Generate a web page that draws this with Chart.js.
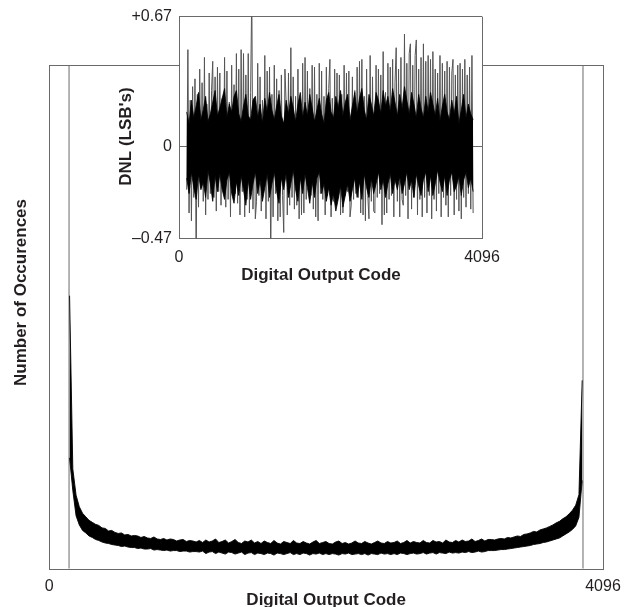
<!DOCTYPE html>
<html><head><meta charset="utf-8">
<script src="https://cdn.jsdelivr.net/npm/chart.js@4.4.1/dist/chart.umd.min.js"></script>
<style>
html,body{margin:0;padding:0;background:#fff;}
#wrap{position:relative;width:626px;height:607px;overflow:hidden;background:#fff;}
#main{position:absolute;left:0;top:0;}
#inset{position:absolute;left:100px;top:0;}
</style></head><body>
<div id="wrap"><canvas id="main" width="626" height="607"></canvas><canvas id="inset" width="420" height="290"></canvas></div>
<script>
// ---------- data ----------
const histFirstCode = 150, histStep = 24;
const histHigh = [
 54.2, 19.8, 14.6, 12.3, 11.0, 10.3, 9.6, 9.2, 8.8, 8.6,
 8.1, 8.0, 7.5, 7.6, 7.2, 7.0, 7.1, 6.7, 6.8, 6.5,
 6.6, 6.5, 6.2, 6.4, 6.1, 6.0, 6.3, 5.9, 5.8, 6.0,
 5.7, 5.9, 5.8, 5.5, 5.7, 5.8, 5.4, 5.6, 5.5, 5.3,
 5.6, 5.2, 5.7, 5.3, 5.5, 5.9, 5.2, 5.4, 5.7, 5.1,
 5.4, 5.8, 5.2, 5.0, 5.5, 5.3, 5.7, 5.1, 5.4, 5.0,
 5.5, 5.2, 5.0, 5.6, 5.1, 4.9, 5.4, 5.2, 5.0, 5.6,
 5.1, 5.0, 5.4, 5.1, 4.9, 5.3, 5.6, 5.0, 5.2, 5.4,
 5.0, 4.9, 5.3, 5.5, 5.0, 5.2, 4.9, 5.1, 5.5, 5.1,
 5.0, 5.4, 5.1, 4.9, 5.2, 5.5, 5.1, 5.0, 5.4, 5.1,
 5.2, 5.5, 5.0, 5.2, 5.6, 5.1, 5.4, 5.2, 5.1, 5.6,
 5.2, 5.1, 5.6, 5.3, 5.4, 5.1, 5.7, 5.3, 5.2, 5.6,
 5.3, 5.7, 5.4, 5.5, 5.9, 5.4, 5.6, 5.9, 5.5, 5.8,
 5.8, 5.7, 5.9, 6.0, 5.9, 6.2, 6.1, 6.3, 6.5, 6.4,
 6.8, 6.9, 7.1, 7.4, 7.3, 7.7, 7.9, 8.1, 8.4, 8.7,
 9.1, 9.4, 9.9, 10.3, 10.9, 11.6, 12.6, 14.7, 37.4
];
const histLow = [
 22.0, 15.5, 10.5, 8.7, 7.6, 7.1, 6.5, 6.2, 5.8, 5.6,
 5.3, 5.1, 5.0, 4.8, 4.7, 4.6, 4.4, 4.5, 4.3, 4.2,
 4.2, 4.0, 4.1, 3.9, 3.9, 4.0, 3.7, 3.8, 3.7, 3.6,
 3.7, 3.5, 3.6, 3.6, 3.4, 3.5, 3.5, 3.3, 3.4, 3.4,
 3.3, 3.5, 3.0, 3.3, 3.4, 3.0, 3.3, 3.1, 2.9, 3.3,
 3.2, 2.9, 3.1, 3.3, 2.8, 3.1, 3.2, 2.8, 3.1, 3.0,
 2.8, 3.1, 3.0, 2.7, 3.1, 3.0, 2.8, 3.0, 3.2, 2.8,
 3.0, 2.8, 3.1, 3.0, 2.7, 3.0, 2.9, 3.1, 2.8, 3.0,
 2.8, 3.0, 2.9, 2.7, 3.0, 2.9, 3.1, 2.8, 2.9, 3.0,
 2.8, 3.0, 2.7, 3.0, 2.9, 2.8, 3.1, 2.9, 3.0, 2.8,
 3.0, 2.8, 3.1, 3.0, 2.8, 3.0, 3.1, 2.9, 3.0, 3.2,
 2.9, 3.1, 3.2, 2.9, 3.2, 3.1, 3.0, 3.3, 3.1, 3.2,
 3.1, 3.3, 3.2, 3.4, 3.2, 3.3, 3.5, 3.3, 3.4, 3.6,
 3.6, 3.6, 3.7, 3.8, 3.8, 3.9, 4.0, 4.1, 4.2, 4.3,
 4.4, 4.5, 4.6, 4.8, 4.9, 5.0, 5.2, 5.3, 5.5, 5.7,
 5.9, 6.1, 6.5, 6.9, 7.3, 7.8, 8.5, 10.2, 17.5
];
const markerCodes = [146, 3948];
const mainXTicks = [0, 4096];
const mainXTitle = 'Digital Output Code';
const mainYTitle = 'Number of Occurences';

// DNL: individual code spikes (grey) and dense core envelope (black)
const dnlFirstCode = 104, dnlStep = 16;
const dnlValues = [
 -0.22, 0.50, -0.34, 0.24, -0.38, 0.31, -0.26, 0.35, -0.60, 0.27,
 -0.31, 0.40, -0.21, 0.33, -0.28, 0.46, -0.35, 0.22, -0.27, 0.38,
 -0.24, 0.29, 0.44, -0.26, 0.36, -0.33, 0.41, -0.23, 0.38, -0.30,
 0.25, -0.22, 0.46, -0.31, 0.39, -0.27, 0.23, -0.36, 0.42, -0.25,
 0.32, -0.24, 0.48, -0.29, 0.40, -0.35, 0.50, -0.23, 0.48, -0.36,
 0.37, -0.27, 0.48, -0.34, 0.28, 0.80, -0.32, 0.25, -0.37, -0.28,
 0.43, -0.25, 0.36, -0.33, 0.24, -0.22, 0.47, -0.37, 0.39, -0.28,
 0.41, -0.60, 0.27, -0.36, 0.42, -0.24, 0.35, -0.38, 0.29, -0.36,
 0.37, -0.25, -0.44, 0.40, 0.23, -0.35, 0.38, -0.30, 0.51, -0.26,
 0.36, -0.32, 0.26, -0.30, 0.40, -0.37, 0.24, -0.35, 0.43, -0.34,
 0.46, -0.27, 0.39, -0.23, 0.30, -0.25, 0.42, -0.32, 0.41, -0.36,
 0.27, -0.38, 0.43, -0.24, 0.39, -0.27, 0.26, -0.35, 0.41, -0.25,
 0.30, 0.45, -0.36, 0.25, -0.28, 0.40, -0.24, 0.38, -0.26, 0.37,
 -0.35, 0.27, -0.34, 0.42, -0.25, 0.38, -0.23, 0.39, -0.36, -0.30,
 0.36, -0.27, 0.29, -0.24, 0.41, -0.26, 0.44, -0.34, 0.45, -0.35,
 0.26, -0.38, 0.40, -0.25, -0.37, 0.47, -0.28, 0.36, -0.33, -0.34,
 0.42, -0.26, 0.40, -0.24, 0.37, -0.40, 0.49, -0.35, 0.28, -0.34,
 0.43, -0.27, 0.41, -0.25, 0.45, -0.36, 0.33, 0.51, -0.28, 0.40,
 -0.36, 0.46, -0.27, -0.30, 0.58, -0.25, 0.43, -0.37, 0.48, 0.53,
 -0.32, 0.42, -0.26, 0.47, 0.55, -0.35, 0.40, -0.27, 0.46, -0.36,
 0.53, -0.26, 0.44, -0.34, 0.47, -0.25, 0.45, -0.37, 0.49, -0.27,
 0.40, -0.33, 0.38, -0.24, 0.47, -0.36, 0.43, -0.26, 0.39, -0.30,
 0.44, -0.36, 0.41, -0.25, 0.38, 0.45, -0.35, 0.37, -0.27, 0.42,
 -0.33, 0.43, -0.37, 0.40, -0.26, 0.45, -0.31, 0.37, -0.24, 0.41,
 -0.32, 0.47, -0.34
];
const coreFirstCode = 104, coreStep = 32;
const coreHigh = [
 0.18, 0.12, 0.24, 0.15, 0.21, 0.28, 0.14, 0.19, 0.26, 0.13,
 0.17, 0.23, 0.29, 0.16, 0.20, 0.25, 0.30, 0.15, 0.22, 0.18,
 0.26, 0.29, 0.17, 0.13, 0.21, 0.27, 0.16, 0.14, 0.24, 0.26,
 0.15, 0.22, 0.12, 0.25, 0.18, 0.28, 0.19, 0.14, 0.21, 0.27,
 0.16, 0.12, 0.24, 0.17, 0.26, 0.20, 0.13, 0.22, 0.28, 0.15,
 0.23, 0.16, 0.27, 0.20, 0.13, 0.19, 0.25, 0.17, 0.12, 0.24,
 0.28, 0.18, 0.15, 0.26, 0.20, 0.29, 0.16, 0.23, 0.27, 0.14,
 0.21, 0.28, 0.17, 0.25, 0.30, 0.19, 0.14, 0.27, 0.22, 0.16,
 0.28, 0.24, 0.17, 0.29, 0.21, 0.26, 0.18, 0.30, 0.23, 0.16,
 0.27, 0.20, 0.31, 0.24, 0.17, 0.28, 0.22, 0.15, 0.27, 0.20,
 0.15, 0.26, 0.18, 0.28, 0.22, 0.16, 0.25, 0.13, 0.21, 0.27,
 0.18, 0.14, 0.24, 0.17, 0.26, 0.12, 0.19, 0.27, 0.15, 0.22,
 0.17, 0.14
];
const coreLow = [
 -0.16, -0.24, -0.13, -0.21, -0.27, -0.14, -0.22, -0.18, -0.26, -0.12,
 -0.19, -0.28, -0.15, -0.23, -0.14, -0.22, -0.27, -0.17, -0.13, -0.24,
 -0.29, -0.18, -0.25, -0.15, -0.22, -0.30, -0.17, -0.27, -0.19, -0.13,
 -0.24, -0.17, -0.28, -0.21, -0.14, -0.26, -0.19, -0.13, -0.23, -0.29,
 -0.16, -0.22, -0.14, -0.26, -0.19, -0.12, -0.22, -0.28, -0.16, -0.24,
 -0.14, -0.21, -0.29, -0.18, -0.26, -0.16, -0.13, -0.24, -0.19, -0.28,
 -0.21, -0.30, -0.24, -0.33, -0.27, -0.20, -0.31, -0.25, -0.19, -0.28,
 -0.22, -0.16, -0.26, -0.18, -0.27, -0.14, -0.21, -0.26, -0.16, -0.24,
 -0.19, -0.13, -0.22, -0.17, -0.26, -0.19, -0.14, -0.24, -0.17, -0.22,
 -0.15, -0.24, -0.19, -0.13, -0.22, -0.17, -0.26, -0.14, -0.20, -0.25,
 -0.17, -0.13, -0.23, -0.15, -0.25, -0.19, -0.12, -0.18, -0.23, -0.15,
 -0.25, -0.17, -0.13, -0.23, -0.20, -0.15, -0.25, -0.17, -0.13, -0.21,
 -0.16, -0.23
];
const dnlYTicks = [-0.47, 0, 0.67];
const dnlYTickLabels = ['\u20130.47', '0', '+0.67'];
const dnlXTicks = [0, 4096];
const dnlXTitle = 'Digital Output Code';
const dnlYTitle = "DNL (LSB's)";

// ---------- styling ----------
const FONT = '"Liberation Sans", Arial, Helvetica, sans-serif';
const TXT = '#231f20';
const LINE = '#6a6a6a';
Chart.defaults.font.family = FONT;

const toPts = (first, step, arr) => arr.map((v, i) => ({x: first + i * step, y: v}));

const mainDecor = {
  id: 'mainDecor',
  afterDraw(chart) {
    const {ctx, chartArea: a} = chart;
    ctx.save();
    ctx.strokeStyle = LINE; ctx.lineWidth = 1;
    const l = Math.round(a.left) + 0.5, t = Math.round(a.top) + 0.5;
    const r = Math.round(a.right) + 0.5, b = Math.round(a.bottom) + 0.5;
    ctx.strokeRect(l, t, r - l, b - t);
    ctx.fillStyle = TXT;
    ctx.font = 'bold 17px ' + FONT;
    ctx.textAlign = 'center'; ctx.textBaseline = 'alphabetic';
    ctx.fillText(mainXTitle, (a.left + a.right) / 2, 605);
    ctx.translate(25.5, 292.5);
    ctx.rotate(-Math.PI / 2);
    ctx.fillText(mainYTitle, 0, 0);
    ctx.restore();
  }
};

new Chart(document.getElementById('main'), {
  type: 'line',
  data: {datasets: [
    {data: toPts(histFirstCode, histStep, histHigh), borderColor: '#000', borderWidth: 0.9, backgroundColor: '#000', fill: '+1', pointRadius: 0, tension: 0, order: 0},
    {data: toPts(histFirstCode, histStep, histLow), borderColor: '#000', borderWidth: 0.9, fill: false, pointRadius: 0, tension: 0, order: 0},
    ...markerCodes.map(c => ({data: [{x: c, y: 0}, {x: c, y: 100}], borderColor: LINE, borderWidth: 1, fill: false, pointRadius: 0, order: 2}))
  ]},
  options: {
    responsive: false, animation: false, events: [],
    layout: {padding: {left: 49.3, top: 65, right: 23, bottom: 0}},
    plugins: {legend: {display: false}, tooltip: {enabled: false}},
    scales: {
      x: {type: 'linear', min: 0, max: 4096,
          afterBuildTicks: s => { s.ticks = mainXTicks.map(v => ({value: v})); },
          afterFit: s => { s.height = 38.3; s.paddingLeft = 0; s.paddingRight = 0; },
          grid: {display: false, drawTicks: false}, border: {display: false},
          ticks: {padding: 8.2, font: {size: 16}, color: TXT, maxRotation: 0, autoSkip: false, callback: v => String(v)}},
      y: {display: false, min: 0, max: 100}
    }
  },
  plugins: [mainDecor]
});

const insetDecor = {
  id: 'insetDecor',
  beforeDraw(chart) {
    const {ctx, chartArea: a} = chart;
    ctx.save();
    ctx.fillStyle = '#fff';
    ctx.fillRect(a.left, a.top, a.right - a.left, a.bottom - a.top);
    ctx.restore();
  },
  afterDraw(chart) {
    const {ctx} = chart;
    ctx.save();
    ctx.fillStyle = TXT;
    ctx.font = 'bold 17px ' + FONT;
    ctx.textAlign = 'center'; ctx.textBaseline = 'alphabetic';
    ctx.fillText(dnlXTitle, 221, 280);
    ctx.translate(31, 136.5);
    ctx.rotate(-Math.PI / 2);
    ctx.fillText(dnlYTitle, 0, 0);
    ctx.restore();
  }
};

new Chart(document.getElementById('inset'), {
  type: 'line',
  data: {datasets: [
    {data: toPts(dnlFirstCode, dnlStep, dnlValues), borderColor: '#555', borderWidth: 1, fill: false, pointRadius: 0, tension: 0, order: 2},
    {data: toPts(coreFirstCode, coreStep, coreHigh), borderColor: '#000', borderWidth: 0.8, backgroundColor: '#000', fill: '+1', pointRadius: 0, tension: 0, order: 0},
    {data: toPts(coreFirstCode, coreStep, coreLow), borderColor: '#000', borderWidth: 0.8, fill: false, pointRadius: 0, tension: 0, order: 0}
  ]},
  options: {
    responsive: false, animation: false, events: [],
    layout: {padding: {left: 0, top: 15, right: 38, bottom: 0}},
    plugins: {legend: {display: false}, tooltip: {enabled: false}},
    scales: {
      x: {type: 'linear', min: 0, max: 4096,
          afterBuildTicks: s => { s.ticks = dnlXTicks.map(v => ({value: v})); },
          afterFit: s => { s.height = 51.7; },
          grid: {display: true, drawTicks: false, color: LINE, lineWidth: 1}, border: {display: true, color: LINE},
          ticks: {padding: 10, font: {size: 16}, color: TXT, maxRotation: 0, autoSkip: false, callback: v => String(v)}},
      y: {type: 'linear', min: -0.47, max: 0.67,
          afterBuildTicks: s => { s.ticks = dnlYTicks.map(v => ({value: v})); },
          afterFit: s => { s.width = 79; },
          grid: {display: true, drawTicks: false, color: LINE, lineWidth: 1}, border: {display: true, color: LINE},
          ticks: {padding: 7, font: {size: 16}, color: TXT, autoSkip: false, callback: (v, i) => dnlYTickLabels[i]}}
    }
  },
  plugins: [insetDecor]
});
</script>
</body></html>
